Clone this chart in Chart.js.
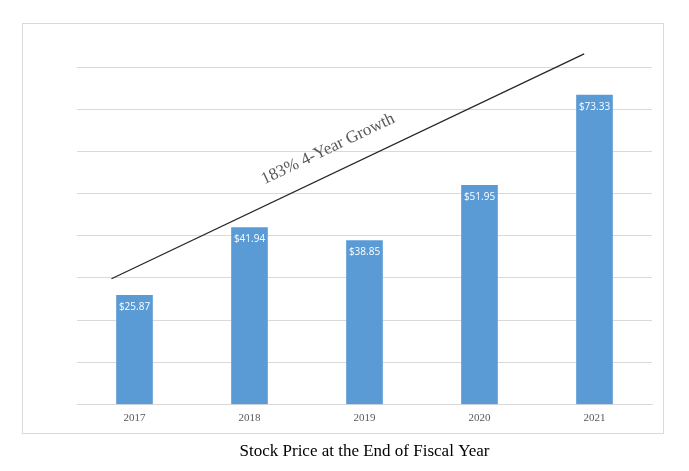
<!DOCTYPE html>
<html>
<head>
<meta charset="utf-8">
<script src="https://cdn.jsdelivr.net/npm/chart.js@4"></script>
<style>
    html, body { margin: 0; padding: 0; background: #fff; }
    #wrap { width: 689px; height: 471px; }
</style>
</head>
<body>
<div id="wrap"><canvas id="barChart" width="689" height="471"></canvas></div>
<script>
const years = ["2017", "2018", "2019", "2020", "2021"];
const prices = [25.87, 41.94, 38.85, 51.95, 73.33];
// trend line end points, in (category index, price) units
const trendX = [-0.2, 3.91];
const trendY = [29.8, 83.1];
const trendLabel = "183% 4-Year Growth";
const chartTitle = "Stock Price at the End of Fiscal Year";

//frame around the plot, like the office chart border
const framePlugin = {
    id: 'frame',
    beforeDraw(chart) {
        const ctx = chart.ctx;
        ctx.save();
        ctx.strokeStyle = '#d9d9d9';
        ctx.lineWidth = 1;
        ctx.strokeRect(22.5, 23.5, 641, 410);
        ctx.restore();
    }
};

//value labels inside the top of each bar + the rotated growth text
const labelPlugin = {
    id: 'labels',
    afterDatasetsDraw(chart) {
        const ctx = chart.ctx;
        ctx.save();
        ctx.fillStyle = '#ffffff';
        ctx.font = '10px "Open Sans"';
        ctx.textAlign = 'center';
        ctx.textBaseline = 'middle';
        chart.getDatasetMeta(0).data.forEach((bar, i) => {
            ctx.fillText('$' + prices[i].toFixed(2), bar.x, bar.y + 12);
        });

        const pts = chart.getDatasetMeta(1).data;
        const p0 = pts[0], p1 = pts[1];
        const ang = Math.atan2(p1.y - p0.y, p1.x - p0.x);
        const t = 0.48;
        const fx = p0.x + (p1.x - p0.x) * t;
        const fy = p0.y + (p1.y - p0.y) * t;
        ctx.translate(fx + Math.sin(ang) * 24, fy - Math.cos(ang) * 24);
        ctx.rotate(ang);
        ctx.fillStyle = '#595959';
        ctx.font = '17px "Liberation Serif"';
        ctx.fillText(trendLabel, 0, 0);
        ctx.restore();
    }
};

const data = {
    labels: years,
    datasets: [{
        type: 'bar',
        data: prices,
        backgroundColor: '#5b9bd5',
        barThickness: 36,
        grouped: false,
        order: 2
    }, {
        type: 'line',
        data: trendX.map((x, i) => ({ x: x, y: trendY[i] })),
        xAxisID: 'xLine',
        borderColor: '#262626',
        borderWidth: 1.3,
        pointRadius: 0,
        fill: false,
        clip: false,
        order: 1
    }]
};

const options = {
    responsive: false,
    animation: false,
    layout: {
        padding: { left: 77, right: 37, top: 67, bottom: 9 }
    },
    plugins: {
        legend: { display: false },
        tooltip: { enabled: false },
        title: {
            display: true,
            position: 'bottom',
            text: chartTitle,
            color: '#000000',
            font: { family: '"Liberation Serif"', size: 17, weight: 'normal' },
            padding: { top: 10, bottom: 0 }
        }
    },
    scales: {
        x: {
            grid: { display: false, drawTicks: false },
            border: { color: '#d9d9d9' },
            ticks: {
                color: '#595959',
                padding: 7,
                font: { family: '"Liberation Serif"', size: 11 }
            }
        },
        xLine: {
            type: 'linear',
            display: false,
            min: -0.5,
            max: 4.5
        },
        y: {
            min: 0,
            max: 80,
            border: { display: false },
            grid: { color: '#d9d9d9', drawTicks: false },
            ticks: { display: false, stepSize: 10 },
            afterFit(scale) { scale.width = 0; }
        }
    }
};

let barChartElement = document.getElementById('barChart').getContext('2d');
let barChart = new Chart(barChartElement, {
    data: data,
    options: options,
    plugins: [framePlugin, labelPlugin]
});
</script>
</body>
</html>
